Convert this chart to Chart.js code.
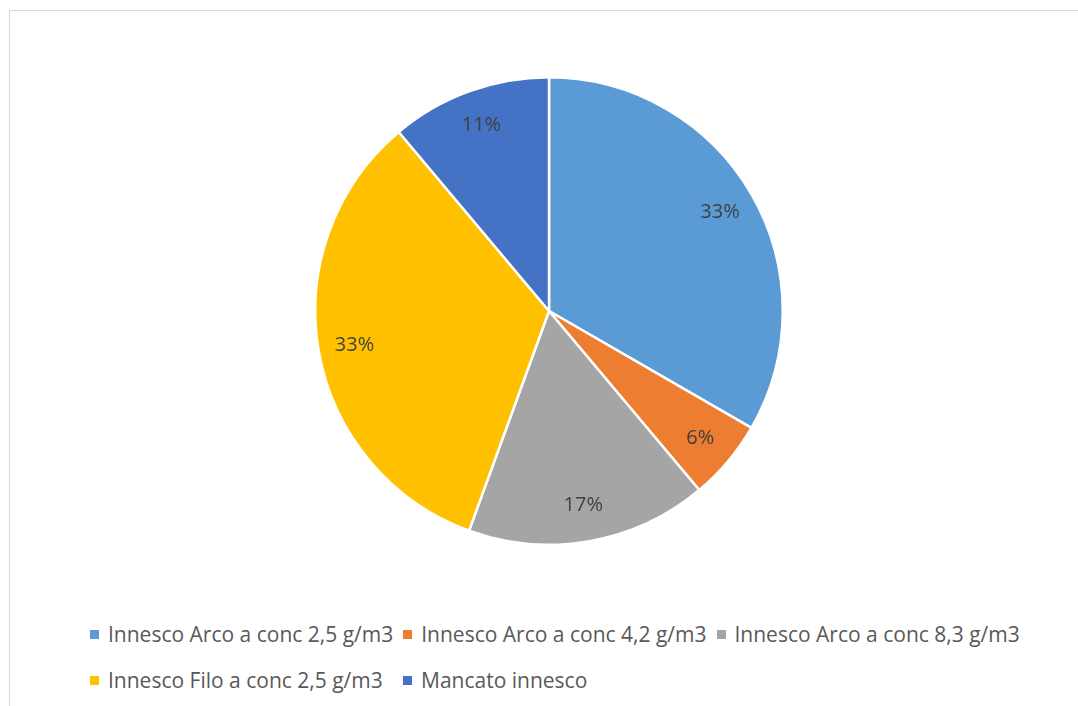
<!DOCTYPE html>
<html lang="it">
<head>
<meta charset="UTF-8">
<title>Innesco</title>
<script src="https://cdn.jsdelivr.net/npm/chart.js"></script>
<style>
    body {
        margin: 0;
        background: #fff;
        width: 1078px;
        height: 706px;
        overflow: hidden;
        position: relative;
        font-family: "Open Sans", "Liberation Sans", Arial, sans-serif;
    }
    .frame {
        position: absolute;
        left: 9px;
        top: 10px;
        width: 1080px;
        height: 720px;
        border: 1px solid #d9d9d9;
    }
    .pie {
        position: absolute;
        left: 299px;
        top: 61px;
        width: 500px;
        height: 500px;
    }
    .legend {
        position: absolute;
        left: 90px;
        top: 611px;
        width: 980px;
        color: #595959;
        font-size: 21px;
    }
    .legend span.item {
        display: inline-block;
        margin-right: 10px;
        line-height: 46px;
        white-space: nowrap;
    }
    .legend span.col1 {
        min-width: 303px;
    }
    .legend i {
        display: inline-block;
        width: 9px;
        height: 9px;
        margin-right: 9px;
        vertical-align: 3px;
    }
</style>
</head>
<body>
<div class="frame"></div>
<div class="pie"><canvas id="pieChart" width="500" height="500"></canvas></div>
<div class="legend" id="legend"></div>

<script>
    const categories = [
        'Innesco Arco a conc 2,5 g/m3',
        'Innesco Arco a conc 4,2 g/m3',
        'Innesco Arco a conc 8,3 g/m3',
        'Innesco Filo a conc 2,5 g/m3',
        'Mancato innesco'
    ];
    const counts = [6, 1, 3, 6, 2];
    const colors = ['#5B9BD5', '#ED7D31', '#A5A5A5', '#FFC000', '#4472C4'];

    // percentuali scritte dentro le fette
    const sliceLabels = {
        id: 'sliceLabels',
        afterDatasetsDraw(chart) {
            const ctx = chart.ctx;
            const data = chart.data.datasets[0].data;
            const total = data.reduce((a, b) => a + b, 0);
            ctx.save();
            ctx.fillStyle = '#404040';
            ctx.font = '20px "Open Sans", "Liberation Sans", Arial, sans-serif';
            ctx.textAlign = 'center';
            ctx.textBaseline = 'middle';
            chart.getDatasetMeta(0).data.forEach((arc, i) => {
                const p = arc.getProps(['x', 'y', 'startAngle', 'endAngle', 'outerRadius'], true);
                const mid = (p.startAngle + p.endAngle) / 2;
                const r = p.outerRadius * 0.845;
                const pct = Math.round(data[i] / total * 100) + '%';
                ctx.fillText(pct, p.x + Math.cos(mid) * r, p.y + Math.sin(mid) * r);
            });
            ctx.restore();
        }
    };

    new Chart(document.getElementById('pieChart').getContext('2d'), {
        type: 'pie',
        data: {
            labels: categories,
            datasets: [{
                data: counts,
                backgroundColor: colors,
                borderColor: '#ffffff',
                borderWidth: 2.5
            }]
        },
        options: {
            responsive: false,
            animation: false,
            layout: { padding: 15 },
            plugins: {
                legend: { display: false },
                tooltip: { enabled: false }
            }
        },
        plugins: [sliceLabels]
    });

    // legenda su due righe, colonne allineate
    const legend = document.getElementById('legend');
    categories.forEach((name, i) => {
        const item = document.createElement('span');
        item.className = (i % 3 === 0) ? 'item col1' : 'item';
        item.innerHTML = '<i style="background:' + colors[i] + '"></i>' + name;
        legend.appendChild(item);
        if (i === 2) legend.appendChild(document.createElement('br'));
    });
</script>
</body>
</html>
